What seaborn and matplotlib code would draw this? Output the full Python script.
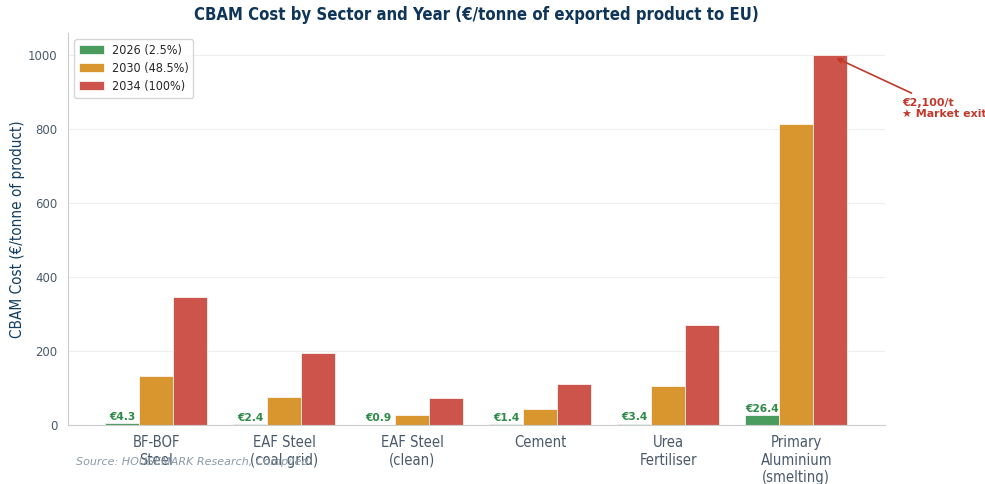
import matplotlib
matplotlib.use("Agg")
import matplotlib.pyplot as plt
import seaborn as sns
import pandas as pd

sectors = ["BF-BOF\nSteel", "EAF Steel\n(coal grid)", "EAF Steel\n(clean)", "Cement",
           "Urea\nFertiliser", "Primary\nAluminium\n(smelting)"]
years = ["2026 (2.5%)", "2030 (48.5%)", "2034 (100%)"]
cost_2026 = [4.3, 2.4, 0.9, 1.4, 3.4, 26.4]
cost_2030 = [133, 76, 27, 43, 106, 815]
cost_2034 = [346, 195, 73, 111, 271, 2100]
cap = 1000
colors = ["#4a9b5e", "#d9962e", "#cc544a"]

rows = []
for y, vals in zip(years, [cost_2026, cost_2030, cost_2034]):
    for s, v in zip(sectors, vals):
        rows.append({"Sector": s, "Year": y, "Cost": min(v, cap)})
df = pd.DataFrame(rows)

sns.set_style("white")
plt.rcParams['font.family'] = ['DejaVu Sans']
plt.rcParams['font.stretch'] = 'condensed'
fig, ax = plt.subplots(figsize=(9.85, 4.84), dpi=100)
fig.subplots_adjust(left=0.069, right=0.898, top=0.932, bottom=0.122)

sns.barplot(data=df, x="Sector", y="Cost", hue="Year", palette=colors, ax=ax,
            width=0.8, edgecolor="white", linewidth=0.5, saturation=1)

ax.set_xlim(-0.69, 5.69)
ax.set_ylim(0, 1060)
ax.set_yticks([0, 200, 400, 600, 800, 1000])
ax.yaxis.grid(True, color="#eeeeee", linewidth=0.8)
ax.set_axisbelow(True)
for sp in ["top", "right"]:
    ax.spines[sp].set_visible(False)
for sp in ["left", "bottom"]:
    ax.spines[sp].set_color("#cccccc")
ax.tick_params(axis="both", colors="#888888", labelcolor="#4a5a6a", length=4)
ax.tick_params(axis="x", labelsize=10.6)
ax.tick_params(axis="y", labelsize=9.4)
ax.set_xlabel("")
ax.set_ylabel("CBAM Cost (€/tonne of product)", color="#123e63", fontsize=11, labelpad=2)
ax.set_title("CBAM Cost by Sector and Year (€/tonne of exported product to EU)",
             color="#0f3658", fontsize=12, fontweight="bold", pad=9)

# labels on 2026 bars
bars_2026 = ax.containers[0]
for rect, v in zip(bars_2026, cost_2026):
    ax.text(rect.get_x() + rect.get_width() / 2, rect.get_height() + 4, f"€{v}",
            ha="center", va="bottom", fontsize=7.7, fontweight="bold", color="#2e8a47",
            fontstretch="normal")

# annotation for capped aluminium bar
red_bars = ax.containers[2]
r = red_bars[5]
ax.annotate(f"€{cost_2034[5]:,}/t\n★ Market exit",
            xy=(r.get_x() + r.get_width() * 0.6, cap - 5),
            xytext=(r.get_x() + r.get_width() * 2.6, 856),
            fontsize=7.9, fontweight="bold", color="#c0392b", ha="left", va="center",
            fontstretch="normal",
            arrowprops=dict(arrowstyle="->", color="#c0392b", lw=1.2),
            annotation_clip=False)

leg = ax.legend(loc="upper left", fontsize=9.0, frameon=True, labelspacing=0.4,
                handlelength=2.0, handletextpad=0.6, borderaxespad=0.5)
leg.set_title(None)

fig.text(0.077, 0.040, "Source: HOUSEMARK Research, Compiled", fontsize=8,
         style="italic", color="#8a9aa8", fontstretch="normal")

fig.savefig("out.png", dpi=100)
